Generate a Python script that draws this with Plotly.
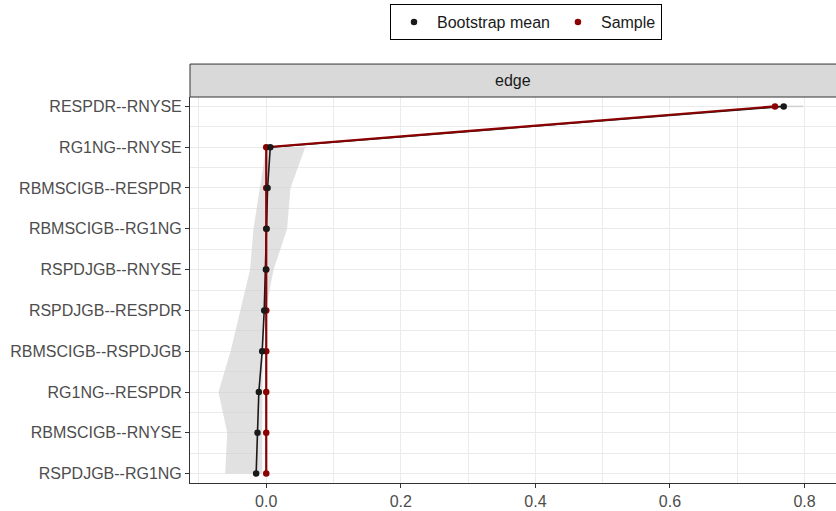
import plotly.graph_objects as go

labels = ["RESPDR--RNYSE", "RG1NG--RNYSE", "RBMSCIGB--RESPDR", "RBMSCIGB--RG1NG",
          "RSPDJGB--RNYSE", "RSPDJGB--RESPDR", "RBMSCIGB--RSPDJGB", "RG1NG--RESPDR",
          "RBMSCIGB--RNYSE", "RSPDJGB--RG1NG"]
sample = [0.756, 0.0, 0.0, 0.0, 0.0, 0.0, 0.0, 0.0, 0.0, 0.0]
boot_mean = [0.769, 0.006, 0.002, 0.0005, -0.0005, -0.003, -0.006, -0.011, -0.013, -0.015]
ci_lower = [0.760, 0.000, -0.010, -0.019, -0.024, -0.039, -0.053, -0.071, -0.058, -0.061]
ci_upper = [0.798, 0.058, 0.036, 0.031, 0.011, -0.001, -0.005, -0.006, -0.006, -0.006]
x_ticks = [0.0, 0.2, 0.4, 0.6, 0.8]

ypos = list(range(len(labels)))
n = len(labels)
FONT = "Arial, Liberation Sans, sans-serif"
RED = "#8b0000"
BLACK = "#1a1a1a"
FS = 16

fig = go.Figure()

# ribbon (rows 2..n)
rib_x = ci_lower[1:] + ci_upper[1:][::-1]
rib_y = ypos[1:] + ypos[1:][::-1]
fig.add_trace(go.Scatter(x=rib_x, y=rib_y, fill="toself", fillcolor="rgba(205,205,205,0.6)",
                         line=dict(width=0), mode="lines", showlegend=False, hoverinfo="skip"))
# top-row CI
fig.add_trace(go.Scatter(x=[ci_lower[0], ci_upper[0]], y=[ypos[0], ypos[0]], mode="lines",
                         line=dict(color="rgba(200,200,200,0.8)", width=1.5),
                         showlegend=False, hoverinfo="skip"))

fig.add_trace(go.Scatter(x=boot_mean, y=ypos, mode="lines",
                         line=dict(color=BLACK, width=1.6), showlegend=False))
fig.add_trace(go.Scatter(x=sample, y=ypos, mode="lines",
                         line=dict(color=RED, width=2.2), showlegend=False))
fig.add_trace(go.Scatter(x=sample, y=ypos, mode="markers", name="Sample",
                         marker=dict(color=RED, size=6.5), legendrank=2))
fig.add_trace(go.Scatter(x=boot_mean, y=ypos, mode="markers", name="Bootstrap mean",
                         marker=dict(color=BLACK, size=6.5), legendrank=1))

# strip
strip_h = 33 / 386.6
fig.add_shape(type="rect", xref="paper", yref="paper", x0=0, x1=1.01, y0=1, y1=1 + strip_h,
              fillcolor="#d9d9d9", line=dict(color="#333333", width=1), layer="above")
fig.add_annotation(text="edge", xref="paper", yref="paper", x=0.5, y=1 + strip_h / 2,
                   showarrow=False, font=dict(family=FONT, size=FS, color="#1a1a1a"),
                   xanchor="center", yanchor="middle")

fig.update_layout(
    width=836, height=511,
    margin=dict(l=190, r=0, t=97, b=28),
    plot_bgcolor="white", paper_bgcolor="white",
    font=dict(family=FONT, size=FS, color="#4d4d4d"),
    legend=dict(orientation="h", xref="container", yref="container",
                x=390 / 836, y=1 - 4 / 511, xanchor="left", yanchor="top",
                bordercolor="#000000", borderwidth=1, bgcolor="white",
                itemwidth=36,
                font=dict(family=FONT, size=FS, color="#1a1a1a"),
                traceorder="normal"),
    xaxis=dict(range=[-0.1133, 0.8467], tickvals=x_ticks,
               ticktext=[f"{v:.1f}" for v in x_ticks],
               showgrid=True, gridcolor="#ebebeb", gridwidth=1.2,
               minor=dict(dtick=0.1, tick0=0.1, showgrid=True, gridcolor="#ebebeb", gridwidth=0.6),
               zeroline=False, showline=True, linecolor="#333333", linewidth=1,
               ticks="outside", ticklen=4, tickcolor="#333333",
               tickfont=dict(family=FONT, size=FS, color="#4d4d4d")),
    yaxis=dict(range=[n - 1 + 0.23, -0.23], tickvals=ypos, ticktext=labels,
               showgrid=True, gridcolor="#ebebeb", gridwidth=1.2,
               minor=dict(dtick=0.5, tick0=0.5, showgrid=True, gridcolor="#ebebeb", gridwidth=0.6),
               zeroline=False, showline=True, linecolor="#333333", linewidth=1,
               ticks="outside", ticklen=4, tickcolor="#333333",
               tickfont=dict(family=FONT, size=FS, color="#4d4d4d")),
)

fig.write_html("out.html", config={"displayModeBar": False},
               post_script="document.body.style.margin='0';document.body.style.overflow='hidden';")
